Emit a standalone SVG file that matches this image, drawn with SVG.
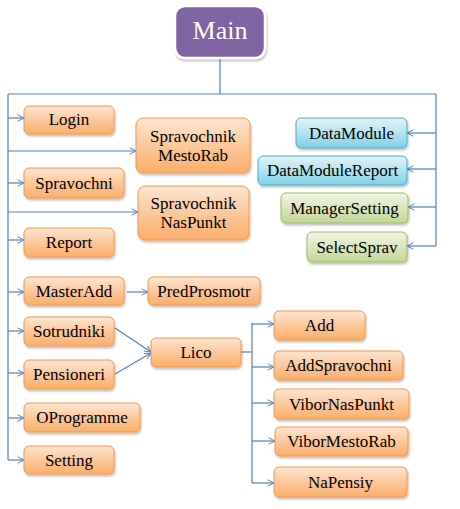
<svg xmlns="http://www.w3.org/2000/svg" width="460" height="509" viewBox="0 0 460 509">
<defs>
<linearGradient id="gO" x1="0" y1="0" x2="0" y2="1"><stop offset="0" stop-color="#fde6d2"/><stop offset="0.5" stop-color="#fcc89b"/><stop offset="1" stop-color="#fbae6b"/></linearGradient>
<linearGradient id="gB" x1="0" y1="0" x2="0" y2="1"><stop offset="0" stop-color="#e3f3f8"/><stop offset="0.5" stop-color="#b4e3f1"/><stop offset="1" stop-color="#7ed0e8"/></linearGradient>
<linearGradient id="gG" x1="0" y1="0" x2="0" y2="1"><stop offset="0" stop-color="#f1f5e6"/><stop offset="0.5" stop-color="#dbe6bd"/><stop offset="1" stop-color="#c3d69b"/></linearGradient>
<filter id="sh" x="-10%" y="-10%" width="130%" height="140%"><feDropShadow dx="1" dy="2" stdDeviation="1.2" flood-color="#000" flood-opacity="0.25"/></filter>
<marker id="ar" viewBox="0 0 10 10" refX="9" refY="5" markerWidth="8" markerHeight="8" markerUnits="userSpaceOnUse" orient="auto"><path d="M1,1 L9,5 L1,9" fill="none" stroke="#4f81bd" stroke-width="1.2"/></marker>
</defs>
<rect width="460" height="509" fill="#fff"/>
<g id="connectors" stroke="#4f81bd" stroke-width="1.2" fill="none">
<polyline points="220,58 220,94"/>
<polyline points="8,94 436,94"/>
<polyline points="8,94 8,460"/>
<polyline points="436,94 436,246"/>
<polyline points="241,352 252,352"/>
<polyline points="252,323 252,483"/>
<g marker-end="url(#ar)">
<line x1="8" y1="118" x2="24" y2="118"/>
<line x1="8" y1="151" x2="136" y2="151"/>
<line x1="8" y1="183" x2="24" y2="183"/>
<line x1="8" y1="212" x2="138" y2="212"/>
<line x1="8" y1="240" x2="24" y2="240"/>
<line x1="8" y1="292" x2="24" y2="292"/>
<line x1="8" y1="331" x2="24" y2="331"/>
<line x1="8" y1="373" x2="24" y2="373"/>
<line x1="8" y1="418" x2="24" y2="418"/>
<line x1="8" y1="460" x2="24" y2="460"/>
<line x1="436" y1="133" x2="407" y2="133"/>
<line x1="436" y1="169" x2="407" y2="169"/>
<line x1="436" y1="207" x2="408" y2="207"/>
<line x1="436" y1="246" x2="407" y2="246"/>
<line x1="127" y1="292" x2="148" y2="292"/>
<line x1="115" y1="328" x2="151" y2="352"/>
<line x1="115" y1="374" x2="151" y2="353"/>
<line x1="252" y1="324" x2="274" y2="324"/>
<line x1="252" y1="367" x2="274" y2="367"/>
<line x1="252" y1="403" x2="274" y2="403"/>
<line x1="252" y1="441" x2="275" y2="441"/>
<line x1="252" y1="483" x2="274" y2="483"/>
</g>
</g>
<g id="nodes" font-family="Liberation Serif" font-size="17" text-anchor="middle" fill="#000">
<g id="main"><rect x="175" y="6" width="90" height="52" rx="10" fill="#8064a2" stroke="#fff" stroke-width="2.5" filter="url(#sh)"/><text x="220" y="39" font-size="26" fill="#fff">Main</text></g>
<g id="login"><rect x="24" y="106" width="90" height="28" rx="5" fill="url(#gO)" stroke="#f79646" filter="url(#sh)"/><text x="69" y="125">Login</text></g>
<g id="spravochnikMestoRab"><rect x="136" y="118" width="114" height="55" rx="7" fill="url(#gO)" stroke="#f79646" filter="url(#sh)"/><text x="193" y="142">Spravochnik</text><text x="193" y="161">MestoRab</text></g>
<g id="spravochni"><rect x="24" y="168" width="100" height="30" rx="5" fill="url(#gO)" stroke="#f79646" filter="url(#sh)"/><text x="74" y="189">Spravochni</text></g>
<g id="spravochnikNasPunkt"><rect x="138" y="186" width="111" height="54" rx="7" fill="url(#gO)" stroke="#f79646" filter="url(#sh)"/><text x="193.5" y="209">Spravochnik</text><text x="193.5" y="228">NasPunkt</text></g>
<g id="report"><rect x="24" y="228" width="90" height="29" rx="5" fill="url(#gO)" stroke="#f79646" filter="url(#sh)"/><text x="69" y="248">Report</text></g>
<g id="masterAdd"><rect x="24" y="277" width="100" height="28" rx="5" fill="url(#gO)" stroke="#f79646" filter="url(#sh)"/><text x="74" y="297">MasterAdd</text></g>
<g id="predProsmotr"><rect x="148" y="277" width="112" height="28" rx="5" fill="url(#gO)" stroke="#f79646" filter="url(#sh)"/><text x="204" y="297">PredProsmotr</text></g>
<g id="sotrudniki"><rect x="24" y="317" width="90" height="29" rx="5" fill="url(#gO)" stroke="#f79646" filter="url(#sh)"/><text x="69" y="337">Sotrudniki</text></g>
<g id="pensioneri"><rect x="24" y="360" width="90" height="29" rx="5" fill="url(#gO)" stroke="#f79646" filter="url(#sh)"/><text x="69" y="380">Pensioneri</text></g>
<g id="lico"><rect x="151" y="338" width="90" height="29" rx="5" fill="url(#gO)" stroke="#f79646" filter="url(#sh)"/><text x="196" y="358">Lico</text></g>
<g id="oProgramme"><rect x="24" y="403" width="116" height="29" rx="5" fill="url(#gO)" stroke="#f79646" filter="url(#sh)"/><text x="82" y="423">OProgramme</text></g>
<g id="setting"><rect x="24" y="446" width="90" height="28" rx="5" fill="url(#gO)" stroke="#f79646" filter="url(#sh)"/><text x="69" y="466">Setting</text></g>
<g id="dataModule"><rect x="296" y="118" width="111" height="30" rx="5" fill="url(#gB)" stroke="#4bacc6" filter="url(#sh)"/><text x="351.5" y="139">DataModule</text></g>
<g id="dataModuleReport"><rect x="258" y="156" width="149" height="29" rx="5" fill="url(#gB)" stroke="#4bacc6" filter="url(#sh)"/><text x="332.5" y="176">DataModuleReport</text></g>
<g id="managerSetting"><rect x="281" y="193" width="127" height="30" rx="5" fill="url(#gG)" stroke="#9bbb59" filter="url(#sh)"/><text x="344.5" y="214">ManagerSetting</text></g>
<g id="selectSprav"><rect x="307" y="232" width="100" height="30" rx="5" fill="url(#gG)" stroke="#9bbb59" filter="url(#sh)"/><text x="357" y="253">SelectSprav</text></g>
<g id="add"><rect x="274" y="311" width="91" height="29" rx="5" fill="url(#gO)" stroke="#f79646" filter="url(#sh)"/><text x="319.5" y="331">Add</text></g>
<g id="addSpravochni"><rect x="274" y="351" width="129" height="29" rx="5" fill="url(#gO)" stroke="#f79646" filter="url(#sh)"/><text x="338.5" y="371">AddSpravochni</text></g>
<g id="viborNasPunkt"><rect x="274" y="389" width="135" height="30" rx="5" fill="url(#gO)" stroke="#f79646" filter="url(#sh)"/><text x="341.5" y="410">ViborNasPunkt</text></g>
<g id="viborMestoRab"><rect x="275" y="427" width="133" height="29" rx="5" fill="url(#gO)" stroke="#f79646" filter="url(#sh)"/><text x="341.5" y="447">ViborMestoRab</text></g>
<g id="naPensiy"><rect x="274" y="467" width="133" height="30" rx="5" fill="url(#gO)" stroke="#f79646" filter="url(#sh)"/><text x="340.5" y="488">NaPensiy</text></g>
</g>
</svg>
